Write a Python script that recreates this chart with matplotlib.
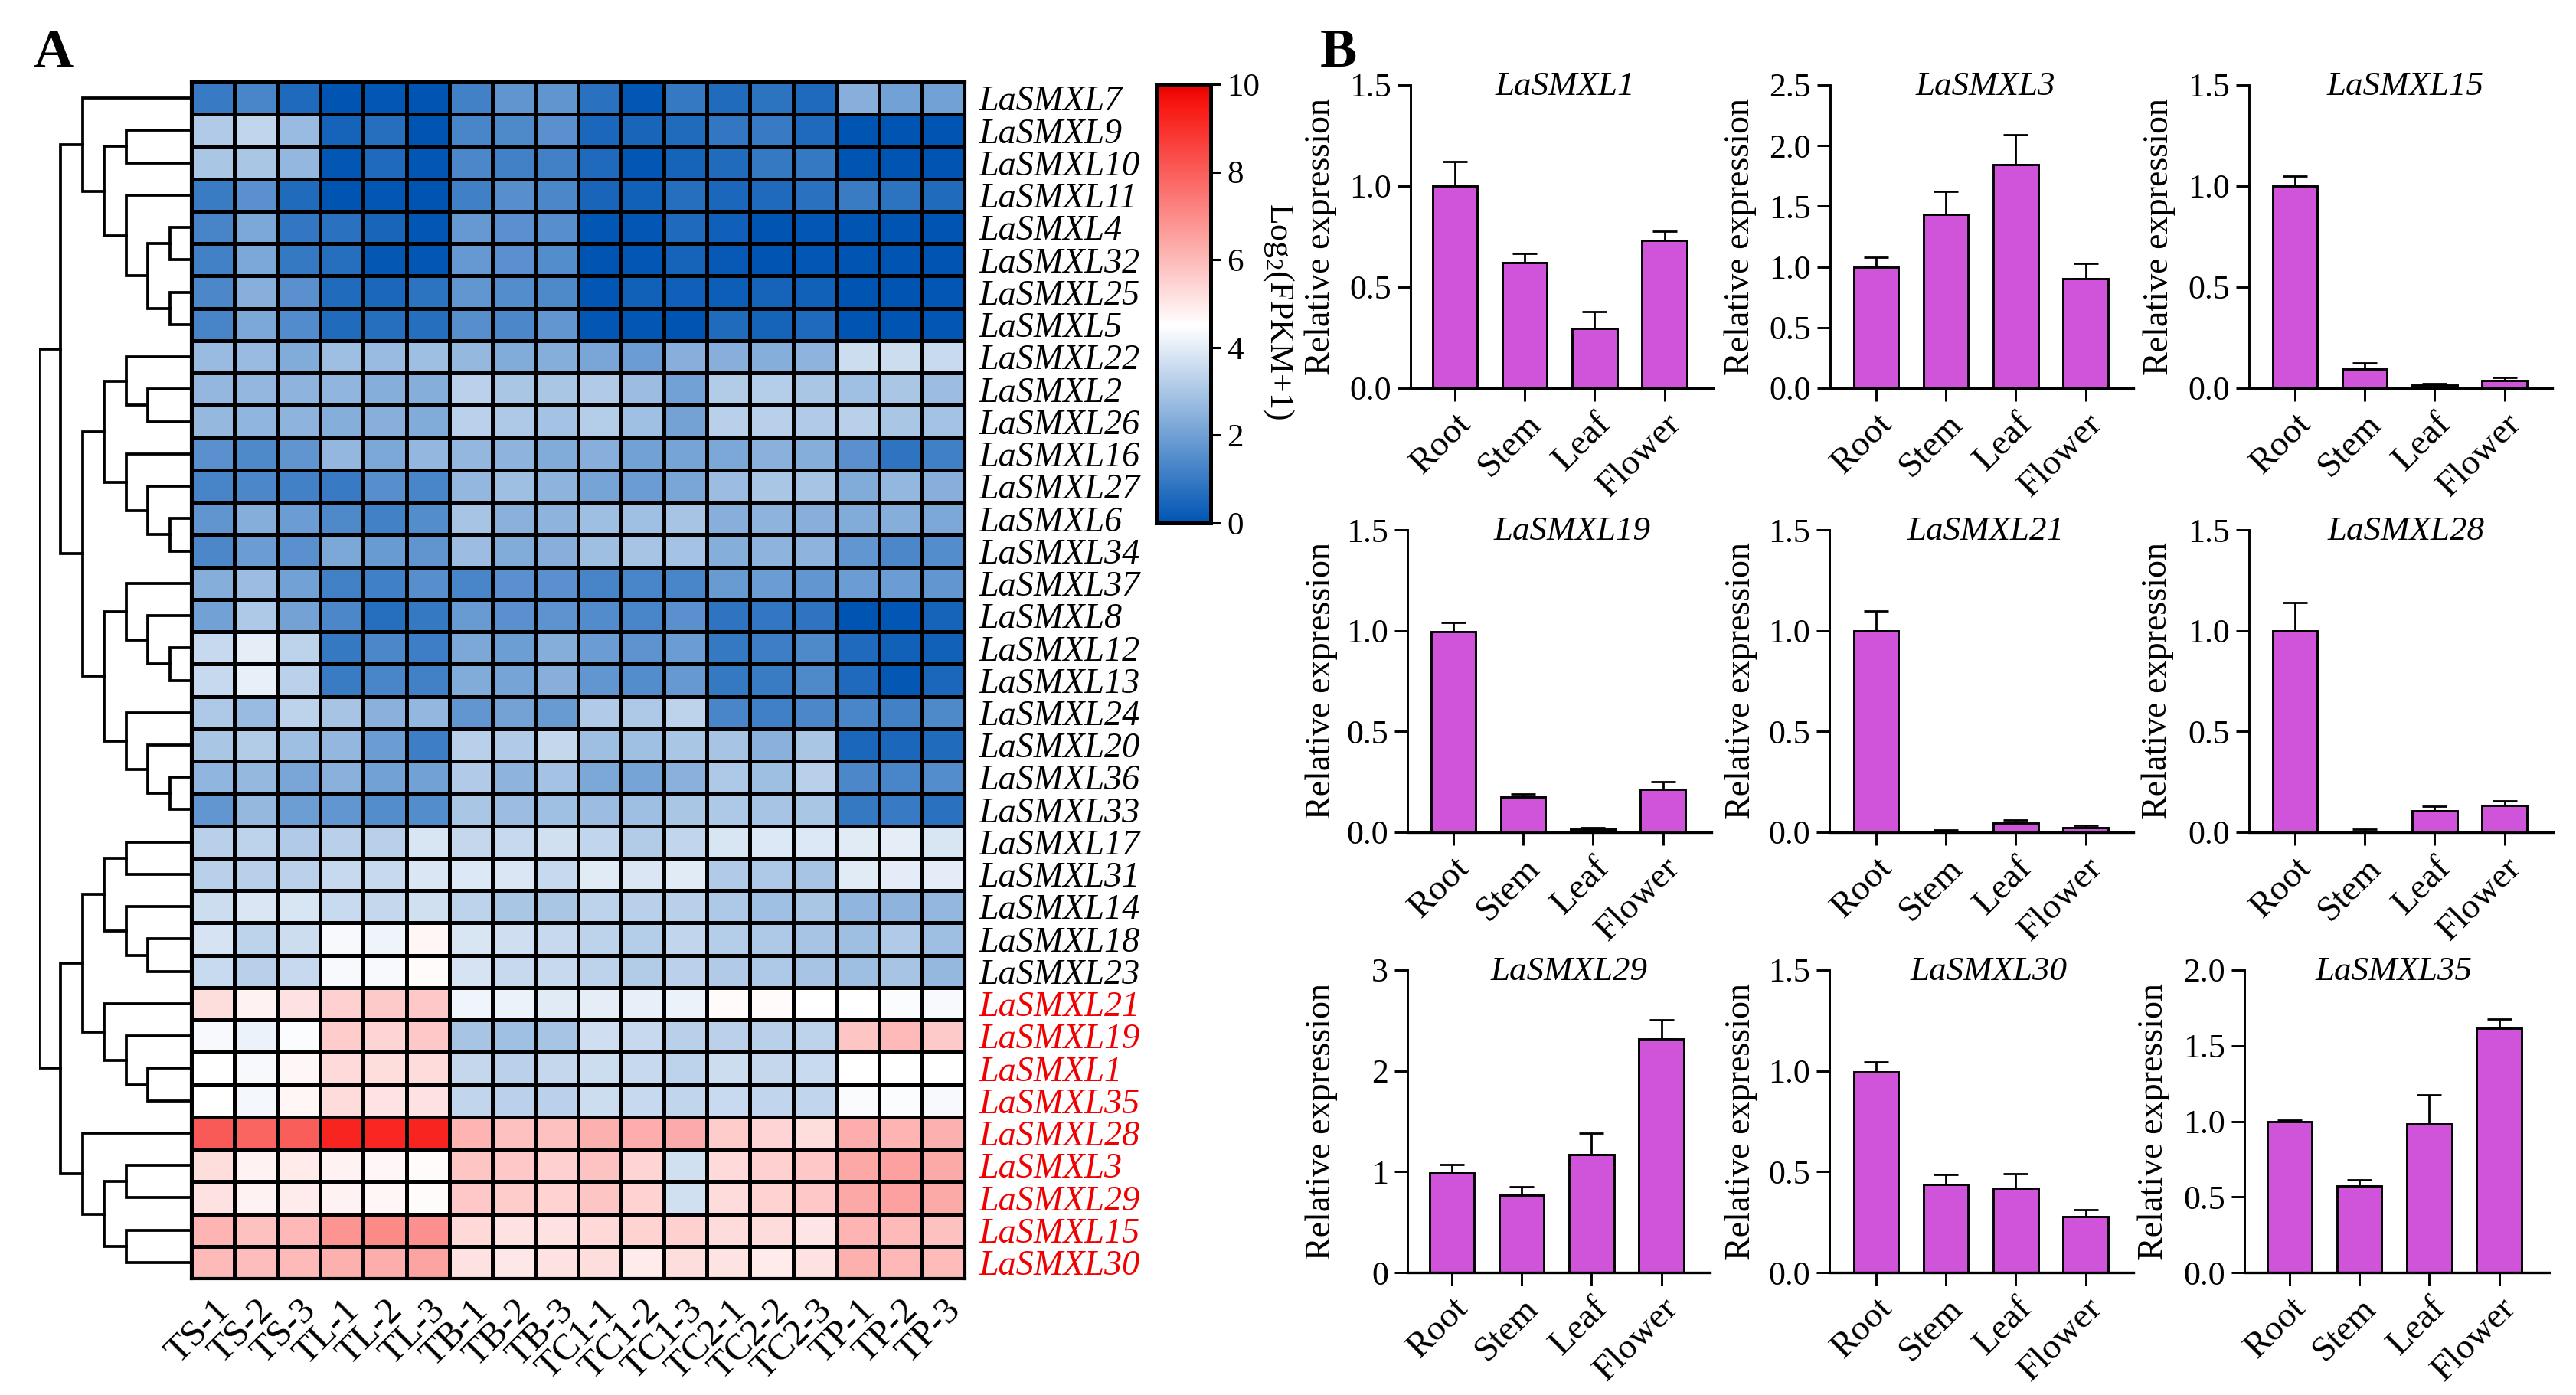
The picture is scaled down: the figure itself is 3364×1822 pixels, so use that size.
import numpy as np
import matplotlib
matplotlib.use("Agg")
import matplotlib.pyplot as plt
from matplotlib.colors import LinearSegmentedColormap
from matplotlib.ticker import FormatStrFormatter

plt.rcParams['font.family'] = ['Liberation Serif', 'DejaVu Serif']
plt.rcParams['mathtext.fontset'] = 'custom'
plt.rcParams['mathtext.rm'] = 'Liberation Serif'
plt.rcParams['mathtext.default'] = 'regular'

W, H, DPI = 3364, 1822, 200

genes = ['LaSMXL7', 'LaSMXL9', 'LaSMXL10', 'LaSMXL11', 'LaSMXL4', 'LaSMXL32', 'LaSMXL25', 'LaSMXL5',
         'LaSMXL22', 'LaSMXL2', 'LaSMXL26', 'LaSMXL16', 'LaSMXL27', 'LaSMXL6', 'LaSMXL34', 'LaSMXL37',
         'LaSMXL8', 'LaSMXL12', 'LaSMXL13', 'LaSMXL24', 'LaSMXL20', 'LaSMXL36', 'LaSMXL33', 'LaSMXL17',
         'LaSMXL31', 'LaSMXL14', 'LaSMXL18', 'LaSMXL23', 'LaSMXL21', 'LaSMXL19', 'LaSMXL1', 'LaSMXL35',
         'LaSMXL28', 'LaSMXL3', 'LaSMXL29', 'LaSMXL15', 'LaSMXL30']
first_red_row = 28

samples = ['TS-1', 'TS-2', 'TS-3', 'TL-1', 'TL-2', 'TL-3', 'TB-1', 'TB-2', 'TB-3',
           'TC1-1', 'TC1-2', 'TC1-3', 'TC2-1', 'TC2-2', 'TC2-3', 'TP-1', 'TP-2', 'TP-3']

# Log2(FPKM+1), one row per gene
fpkm = [
    [1.0, 1.3, .55, 0, .05, 0, 1.2, 1.7, 1.7, .75, .05, .95, .6, .8, .55, 2.4, 2.0, 2.0],
    [3.1, 3.4, 2.7, .4, .7, 0, 1.3, 1.4, 1.6, .5, .45, .6, .9, 1.0, .55, 0, 0, 0],
    [3.0, 3.0, 2.6, .05, .55, .05, 1.35, 1.2, 1.2, .55, .05, .4, .6, .95, .95, 0, 0, 0],
    [1.05, 1.6, .6, 0, .05, 0, 1.15, 1.55, 1.35, .45, .35, .7, .5, .55, .75, 1.05, .8, .6],
    [1.25, 2.2, .9, .75, .45, .05, 1.8, 1.6, 1.55, .05, .05, .55, .3, 0, .05, 0, 0, 0],
    [1.2, 2.2, .95, .7, .1, .05, 1.8, 1.6, 1.5, 0, .05, .4, .15, 0, .05, 0, 0, 0],
    [1.35, 2.4, 1.6, .6, .5, .8, 1.75, 1.5, 1.4, .05, .35, .3, .25, .4, .35, 0, 0, .05],
    [1.25, 2.2, 1.45, .6, .7, .7, 1.55, 1.35, 1.75, .05, .05, 0, .6, .4, .55, 0, 0, .05],
    [2.7, 2.7, 2.3, 2.8, 2.7, 2.8, 2.65, 2.3, 2.35, 2.15, 1.9, 2.4, 2.4, 2.35, 2.5, 3.6, 3.6, 3.55],
    [2.6, 2.6, 2.5, 2.55, 2.35, 2.35, 3.3, 3.0, 3.0, 3.1, 2.75, 2.0, 3.15, 3.2, 3.0, 2.85, 3.0, 2.75],
    [2.65, 2.55, 2.5, 2.35, 2.4, 2.3, 3.3, 3.05, 2.9, 3.2, 2.85, 2.05, 3.25, 3.25, 3.1, 3.25, 3.0, 2.9],
    [1.6, 1.4, 1.7, 2.6, 2.2, 2.6, 2.6, 2.5, 2.3, 2.4, 2.0, 2.1, 2.2, 2.45, 2.35, 1.6, .85, 1.15],
    [1.25, 1.35, 1.2, 1.0, 1.55, 1.3, 2.6, 2.8, 2.5, 2.1, 1.9, 2.15, 2.75, 3.0, 2.95, 2.3, 2.6, 2.4],
    [1.7, 2.35, 1.9, 1.4, 1.2, 1.5, 2.95, 2.45, 2.5, 2.8, 2.85, 2.95, 2.4, 2.5, 2.4, 2.3, 2.35, 2.2],
    [1.35, 1.9, 1.6, 2.2, 1.85, 1.7, 2.75, 2.3, 2.4, 2.8, 2.95, 2.9, 2.35, 2.5, 2.5, 1.75, 1.35, 1.5],
    [2.35, 2.75, 2.0, 1.2, 1.15, 1.55, 1.3, 1.6, 1.6, 1.25, 1.3, 1.3, 1.85, 1.9, 1.75, 1.9, 1.9, 1.75],
    [2.0, 3.05, 2.05, 1.35, .7, .95, 1.85, 1.6, 1.65, 1.45, 1.3, 1.6, .85, .9, .85, 0, .05, .4],
    [3.5, 4.05, 3.35, .95, 1.35, 1.1, 2.2, 1.95, 2.35, 1.9, 1.65, 1.9, .95, 1.1, 1.4, .55, .35, .35],
    [3.5, 4.1, 3.3, 1.05, 1.3, 1.2, 2.3, 2.1, 2.4, 1.75, 1.5, 1.8, .95, 1.05, 1.4, .55, .1, .5],
    [3.05, 2.7, 3.35, 2.95, 2.45, 2.6, 1.75, 2.05, 1.85, 3.1, 3.05, 3.35, 1.3, 1.15, 1.35, 1.3, 1.2, 1.4],
    [3.0, 3.15, 2.8, 2.6, 1.9, 1.1, 3.25, 3.1, 3.45, 2.8, 2.85, 3.0, 2.95, 2.45, 3.0, .5, .5, .6],
    [2.55, 2.65, 2.15, 2.45, 2.0, 2.0, 3.1, 2.5, 2.9, 2.2, 2.1, 2.45, 3.05, 2.8, 3.25, 1.35, 1.3, 1.5],
    [1.75, 2.65, 1.95, 1.75, 1.5, 1.5, 3.0, 2.75, 2.85, 2.75, 2.8, 3.0, 3.05, 2.95, 3.0, .95, 1.0, .75],
    [3.25, 3.35, 3.1, 3.25, 3.25, 3.8, 3.45, 3.5, 3.7, 3.4, 3.15, 3.4, 3.8, 3.9, 3.9, 3.95, 4.05, 3.8],
    [3.25, 3.25, 3.3, 3.5, 3.5, 3.85, 3.9, 3.85, 3.5, 3.95, 3.85, 3.95, 3.1, 3.05, 2.95, 3.95, 4.0, 4.0],
    [3.6, 3.85, 3.8, 3.55, 3.45, 3.7, 3.35, 3.0, 3.0, 3.35, 3.25, 3.25, 3.05, 2.85, 3.0, 2.55, 2.5, 2.6],
    [3.75, 3.35, 3.6, 4.35, 4.2, 4.7, 3.8, 3.65, 3.5, 3.35, 3.2, 3.4, 3.2, 3.05, 2.95, 2.8, 3.1, 2.8],
    [3.55, 3.25, 3.5, 4.35, 4.35, 4.6, 3.75, 3.5, 3.5, 3.35, 3.15, 3.3, 3.1, 3.05, 2.95, 2.8, 2.95, 2.65],
    [5.2, 4.8, 5.15, 5.5, 5.65, 5.7, 4.25, 4.15, 3.95, 4.05, 4.1, 4.15, 4.6, 4.6, 4.5, 4.5, 4.45, 4.35],
    [4.35, 4.15, 4.45, 5.6, 5.4, 5.7, 2.95, 2.85, 2.95, 3.65, 3.5, 3.25, 3.3, 3.25, 3.35, 5.75, 6.0, 5.65],
    [4.5, 4.35, 4.65, 5.3, 5.2, 5.25, 3.45, 3.3, 3.45, 3.6, 3.5, 3.35, 3.6, 3.45, 3.55, 4.5, 4.5, 4.5],
    [4.5, 4.3, 4.7, 5.25, 5.1, 5.15, 3.4, 3.3, 3.3, 3.6, 3.5, 3.4, 3.55, 3.4, 3.4, 4.4, 4.45, 4.35],
    [8.05, 7.85, 8.0, 9.25, 9.2, 9.25, 6.1, 5.85, 5.85, 6.2, 6.25, 6.3, 5.6, 5.4, 5.2, 6.25, 6.1, 6.2],
    [5.2, 4.8, 4.95, 4.8, 4.65, 4.6, 5.75, 5.7, 5.5, 5.8, 5.4, 3.7, 5.3, 5.5, 5.7, 6.4, 6.55, 6.35],
    [5.15, 4.8, 4.9, 4.8, 4.7, 4.6, 5.7, 5.6, 5.45, 5.75, 5.45, 3.7, 5.25, 5.45, 5.7, 6.4, 6.55, 6.35],
    [6.1, 5.85, 6.05, 6.8, 7.0, 6.9, 5.35, 5.15, 5.15, 5.35, 5.45, 5.5, 5.25, 5.25, 5.05, 6.1, 6.0, 5.85],
    [6.0, 5.9, 6.0, 6.2, 6.25, 6.45, 5.15, 5.0, 5.15, 5.2, 4.95, 5.2, 5.1, 4.95, 5.15, 6.2, 6.05, 5.95],
]

# row clustering: (depth of the join, upper branch, lower branch), integers are heatmap rows
gene_tree = (0,
    (1,
        (2, 0,
            (3,
                (4, 1, 2),
                (4, 3, (5, (6, 4, 5), (6, 6, 7))))),
        (2,
            (3,
                (4, 8, (5, 9, 10)),
                (4, 11, (5, 12, (6, 13, 14)))),
            (3,
                (4, 15, (5, 16, (6, 17, 18))),
                (4, 19, (5, 20, (6, 21, 22)))))),
    (1,
        (2,
            (3,
                (4, 23, 24),
                (4, 25, (5, 26, 27))),
            (3, 28, (4, 29, (5, 30, 31)))),
        (2, 32,
            (3,
                (4, 33, 34),
                (4, 35, 36)))))

tissues = ['Root', 'Stem', 'Leaf', 'Flower']

qpcr_names = ['LaSMXL1', 'LaSMXL3', 'LaSMXL15', 'LaSMXL19', 'LaSMXL21', 'LaSMXL28', 'LaSMXL29', 'LaSMXL30', 'LaSMXL35']
qpcr_means = [
    [1.0, .62, .295, .73],
    [1.0, 1.43, 1.845, .9],
    [1.0, .096, .014, .039],
    [.995, .174, .015, .212],
    [1.0, .004, .045, .023],
    [1.0, .004, .106, .132],
    [.99, .764, 1.17, 2.32],
    [.995, .437, .418, .279],
    [.998, .573, .983, 1.613],
]
qpcr_errors = [
    [.12, .048, .085, .046],
    [.08, .19, .242, .13],
    [.05, .029, .009, .014],
    [.045, .015, .008, .039],
    [.097, .008, .015, .01],
    [.14, .012, .025, .025],
    [.08, .086, .21, .185],
    [.05, .05, .072, .031],
    [.012, .042, .192, .062],
]
qpcr_ymax = [1.5, 2.5, 1.5, 1.5, 1.5, 1.5, 3, 1.5, 2.0]
qpcr_ystep = [.5, .5, .5, .5, .5, .5, 1, .5, .5]
qpcr_yfmt = ['%.1f', '%.1f', '%.1f', '%.1f', '%.1f', '%.1f', '%d', '%.1f', '%.1f']

BAR_COLOR = '#d054d9'


def px_axes(fig, left, top, right, bottom):
    return fig.add_axes([left / W, 1 - bottom / H, (right - left) / W, (bottom - top) / H])


def draw_tree(ax, node):
    # returns the y of the branch so the parent can connect to it
    if isinstance(node, int):
        return node + 0.5, 7
    depth, upper, lower = node
    y1, d1 = draw_tree(ax, upper)
    y2, d2 = draw_tree(ax, lower)
    ax.plot([d1, depth, depth, d2], [y1, y1, y2, y2], color='k', lw=1.35,
            solid_joinstyle='miter', solid_capstyle='projecting')
    return (y1 + y2) / 2, depth


fig = plt.figure(figsize=(W / DPI, H / DPI), dpi=DPI)

# heatmap
cmap = LinearSegmentedColormap.from_list('bwr_fpkm', [
    (0.0, '#0055b3'), (0.45, '#ffffff'), (0.96, '#f8140f'), (1.0, '#e60000')])

ax = px_axes(fig, 250, 107, 1260, 1670)
mesh = ax.pcolormesh(np.array(fpkm), cmap=cmap, vmin=0, vmax=10, edgecolors='k', linewidth=1.15)
ax.set_xlim(0, len(samples))
ax.set_ylim(len(genes), 0)
for s in ax.spines.values():
    s.set_linewidth(1.5)
ax.yaxis.tick_right()
ax.set_yticks(np.arange(len(genes)) + 0.5)
ax.set_yticklabels(genes, fontsize=16.6, style='italic')
for i, lab in enumerate(ax.get_yticklabels()):
    if i >= first_red_row:
        lab.set_color('#f00000')
ax.set_xticks(np.arange(len(samples)) + 0.5)
ax.set_xticklabels(samples, fontsize=17.5, rotation=45, ha='right', va='top', rotation_mode='anchor')
ax.tick_params(axis='both', length=0)
ax.tick_params(axis='y', pad=6.5)
ax.tick_params(axis='x', pad=7)

# dendrogram, same row scale as the heatmap
dax = px_axes(fig, 51, 107, 250, 1670)
dax.set_xlim(0, 7)
dax.set_ylim(len(genes), 0)
dax.axis('off')
draw_tree(dax, gene_tree)

# colour scale
cax = px_axes(fig, 1510, 110, 1581, 683)
cbar = fig.colorbar(mesh, cax=cax)
cbar.set_ticks([0, 2, 4, 6, 8, 10])
cbar.outline.set_linewidth(1.8)
cbar.ax.tick_params(length=4.7, width=1.1, labelsize=15.5, pad=3)
fig.text(1670 / W, 1 - 406 / H, 'Log$_{2}$(FPKM+1)', rotation=270, fontsize=15.8, ha='center', va='center')

fig.text(43 / W, 1 - 88 / H, 'A', fontsize=26, fontweight='bold', ha='left', va='baseline')
fig.text(1724 / W, 1 - 87 / H, 'B', fontsize=26, fontweight='bold', ha='left', va='baseline')

# bar panels
spine_x = [[1842, 2390, 2937], [1838, 2389, 2937], [1838, 2389, 2931]]
end_x = [[2237, 2786, 3333], [2235, 2786, 3334], [2233, 2786, 3329]]
first_tick = [[1900, 2450, 2997], [1898, 2450, 2997], [1896, 2450, 2990]]
row_top = [111, 692, 1267]
row_zero = [507, 1087, 1662]
title_x = [[2044, 2593, 3141], [2053, 2593, 3142], [2049, 2597, 3126]]
label_x = [[1725, 2273, 2820], [1726, 2274, 2818], [1726, 2274, 2813]]
tick_step = 91.2

for i in range(len(qpcr_names)):
    r, c = divmod(i, 3)
    t0 = first_tick[r][c]
    a = px_axes(fig, spine_x[r][c], row_top[r], end_x[r][c], row_zero[r])
    xs = np.arange(len(tissues))
    a.bar(xs, qpcr_means[i], width=0.64, color=BAR_COLOR, edgecolor='k', linewidth=1.05, clip_on=False, zorder=2)
    a.errorbar(xs, qpcr_means[i], yerr=[np.zeros(4), qpcr_errors[i]], fmt='none', ecolor='k',
               elinewidth=1.0, capsize=5.6, capthick=1.0, zorder=1)
    a.set_xlim((spine_x[r][c] - t0) / tick_step, (end_x[r][c] - t0) / tick_step)
    a.set_ylim(0, qpcr_ymax[i])
    a.set_yticks(np.arange(0, qpcr_ymax[i] + 1e-6, qpcr_ystep[i]))
    a.yaxis.set_major_formatter(FormatStrFormatter(qpcr_yfmt[i]))
    a.set_xticks(xs)
    a.set_xticklabels(tissues, fontsize=17, rotation=45, ha='right', va='top', rotation_mode='anchor')
    a.tick_params(axis='y', length=6, width=1.05, labelsize=15.8, pad=3)
    a.tick_params(axis='x', length=6, width=1.05, pad=3)
    a.spines['top'].set_visible(False)
    a.spines['right'].set_visible(False)
    a.spines['left'].set_linewidth(1.05)
    a.spines['bottom'].set_linewidth(1.2)
    a.patch.set_alpha(0)
    fig.text(title_x[r][c] / W, 1 - (row_top[r] + 2) / H, qpcr_names[i], fontsize=16.2, style='italic',
             ha='center', va='center')
    fig.text(label_x[r][c] / W, 1 - (row_top[r] + row_zero[r]) / 2 / H, 'Relative expression', fontsize=16.6,
             rotation=90, ha='center', va='center')

fig.savefig('out.png', dpi=DPI, facecolor='white')
